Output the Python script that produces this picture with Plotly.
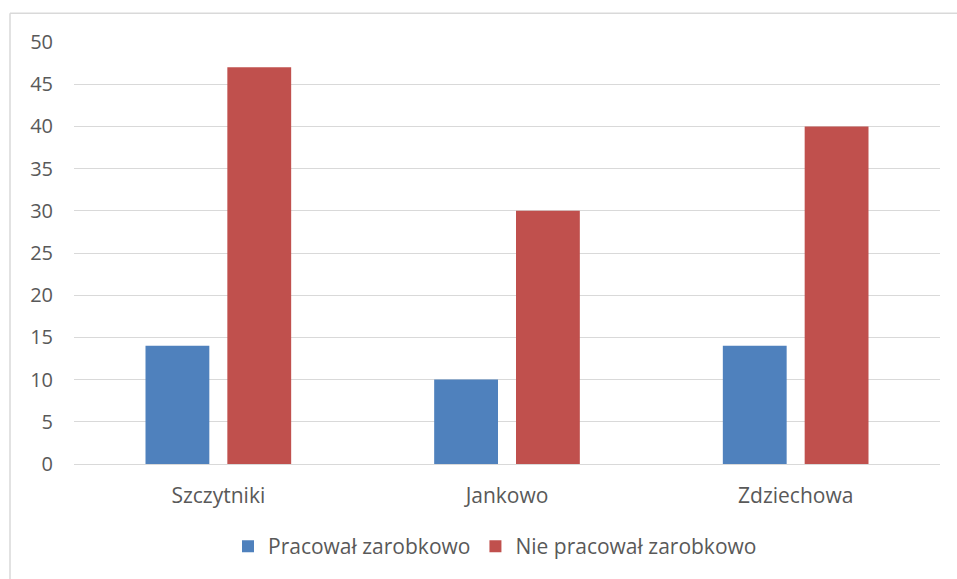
import plotly.graph_objects as go

categories = ["Szczytniki", "Jankowo", "Zdziechowa"]
worked = [14, 10, 14]
not_worked = [47, 30, 40]
y_ticks = [0, 5, 10, 15, 20, 25, 30, 35, 40, 45, 50]

FONT = "Open Sans, Liberation Sans, sans-serif"
TXT = "#595959"

fig = go.Figure()
fig.add_bar(x=categories, y=worked, name="Pracował zarobkowo",
            marker=dict(color="#4F81BD", line=dict(width=0)))
fig.add_bar(x=categories, y=not_worked, name="Nie pracował zarobkowo",
            marker=dict(color="#C0504D", line=dict(width=0)))

W, H = 957, 579
L, T = 74, 42
R = W - 940
B = H - 466
pw, ph = W - L - R, H - T - B

def px(x):
    return (x - L) / pw

def py(y):
    return (H - B - y) / ph

fig.update_layout(
    width=W, height=H,
    margin=dict(l=L, r=R, t=T, b=B, pad=0),
    paper_bgcolor="white", plot_bgcolor="white",
    barmode="group", bargap=0.433, bargroupgap=0.22,
    font=dict(family=FONT, size=20, color=TXT),
    showlegend=True,
    legend=dict(orientation="h", x=px(495), xanchor="center", y=py(549), yanchor="middle",
                font=dict(family=FONT, size=21, color=TXT), itemwidth=30,
                traceorder="normal"),
    xaxis=dict(showgrid=False, showline=False, zeroline=False, ticks="",
               tickfont=dict(family=FONT, size=21, color=TXT), ticklabelstandoff=17),
    yaxis=dict(range=[0, 50], tickvals=y_ticks, showgrid=True, gridcolor="#D9D9D9",
               gridwidth=1.3, zeroline=True, zerolinecolor="#D9D9D9", zerolinewidth=1.3,
               showline=False, ticks="", ticklabelstandoff=20,
               tickfont=dict(family=FONT, size=20, color=TXT)),
    shapes=[
        dict(type="line", xref="paper", yref="paper", x0=px(10), x1=px(10), y0=py(13), y1=py(600),
             line=dict(color="#D9D9D9", width=1.5)),
        dict(type="line", xref="paper", yref="paper", x0=px(10), x1=px(970), y0=py(13), y1=py(13),
             line=dict(color="#D9D9D9", width=1.5)),
    ],
)

fig.write_html("out.html", config={"displayModeBar": False},
               post_script="document.body.style.margin='0';")
